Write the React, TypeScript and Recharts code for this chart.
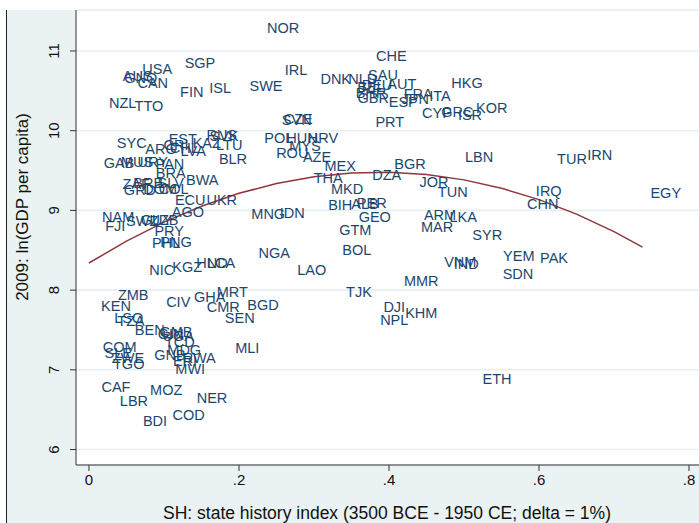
import { ScatterChart, Scatter, XAxis, YAxis, CartesianGrid } from 'recharts'

const FONT = '"Liberation Sans", Arial, sans-serif'
const LABEL_COLOR = '#1a476f'
const FIT_COLOR = '#90353b'

// country codes, state history index, 2009 ln(GDP per capita)
const CODES = [
  'NOR', 'CHE', 'SGP', 'USA', 'AUS', 'GNQ', 'CAN', 'FIN', 'ISL', 'SWE', 'IRL', 'NZL', 'TTO',
  'DNK', 'NLD', 'SAU', 'BEL', 'DEU', 'BHR', 'AUT', 'GBR', 'ESP', 'FRA', 'JPN', 'ITA', 'HKG',
  'CYP', 'GRC', 'ISR', 'KOR', 'PRT', 'SVN', 'CZE',
  'SYC', 'EST', 'ARG', 'CRI', 'CHL', 'LVA', 'KAZ', 'RUS', 'SVK', 'LTU', 'BLR', 'GAB', 'MUS',
  'URY', 'PAN', 'BRA', 'BWA', 'ZAF', 'BRB', 'SLV', 'GRD', 'DOM', 'COL', 'ECU', 'UKR', 'AGO',
  'MNG', 'IDN', 'NAM', 'FJI', 'SWZ', 'GUY', 'UZB', 'PRY', 'PHL', 'PNG', 'NIC', 'KGZ', 'HND',
  'LCA', 'NGA',
  'ZMB', 'KEN', 'CIV', 'GHA', 'MRT', 'CMR', 'BGD', 'SEN', 'LSO', 'TZA', 'BEN', 'GIN', 'GMB',
  'UGA', 'TCD', 'COM', 'SLE', 'ZWE', 'TGO', 'MDG', 'GNB', 'RWA', 'ERI', 'MWI', 'MLI', 'CAF',
  'MOZ', 'LBR', 'NER', 'BDI', 'COD',
  'POL', 'HUN', 'HRV', 'ROU', 'MYS', 'AZE', 'MEX', 'THA', 'DZA', 'BGR', 'MKD', 'JOR', 'TUN',
  'LBN', 'BIH', 'ALB', 'PER', 'GEO', 'GTM', 'BOL', 'LAO', 'ARM', 'LKA', 'MAR', 'SYR', 'VNM',
  'IND', 'YEM', 'SDN', 'PAK', 'MMR', 'TJK', 'DJI', 'NPL', 'KHM', 'ETH', 'TUR', 'IRN', 'IRQ',
  'CHN', 'EGY',
]

const SH = [
  0.259, 0.403, 0.148, 0.091, 0.065, 0.069, 0.085, 0.137, 0.175, 0.236, 0.276, 0.045, 0.080,
  0.329, 0.365, 0.392, 0.376, 0.384, 0.376, 0.417, 0.379, 0.419, 0.439, 0.435, 0.468, 0.504,
  0.464, 0.491, 0.508, 0.537, 0.401, 0.277, 0.279,
  0.057, 0.125, 0.096, 0.116, 0.127, 0.139, 0.157, 0.177, 0.180, 0.187, 0.192, 0.040, 0.064,
  0.085, 0.108, 0.109, 0.151, 0.063, 0.079, 0.109, 0.068, 0.095, 0.113, 0.135, 0.177, 0.132,
  0.239, 0.271, 0.039, 0.035, 0.071, 0.090, 0.100, 0.107, 0.103, 0.116, 0.097, 0.131, 0.164,
  0.176, 0.247,
  0.059, 0.036, 0.119, 0.161, 0.191, 0.179, 0.232, 0.201, 0.053, 0.056, 0.081, 0.109, 0.116,
  0.119, 0.121, 0.041, 0.039, 0.052, 0.053, 0.127, 0.108, 0.147, 0.128, 0.135, 0.211, 0.036,
  0.103, 0.060, 0.164, 0.088, 0.133,
  0.253, 0.284, 0.312, 0.271, 0.288, 0.304, 0.335, 0.319, 0.397, 0.428, 0.344, 0.460, 0.485,
  0.520, 0.335, 0.368, 0.377, 0.381, 0.355, 0.357, 0.297, 0.468, 0.499, 0.464, 0.531, 0.495,
  0.503, 0.573, 0.572, 0.620, 0.443, 0.360, 0.407, 0.407, 0.443, 0.544, 0.644, 0.681, 0.613,
  0.605, 0.769,
]

const LNGDP = [
  11.296, 10.945, 10.857, 10.782, 10.694, 10.669, 10.606, 10.493, 10.543, 10.568, 10.769, 10.355, 10.317,
  10.656, 10.656, 10.706, 10.556, 10.581, 10.481, 10.593, 10.418, 10.368, 10.468, 10.405, 10.443, 10.606,
  10.230, 10.242, 10.205, 10.292, 10.117, 10.142, 10.154,
  9.853, 9.903, 9.778, 9.828, 9.790, 9.753, 9.853, 9.954, 9.941, 9.828, 9.652, 9.602, 9.615,
  9.615, 9.590, 9.477, 9.389, 9.339, 9.351, 9.351, 9.263, 9.276, 9.276, 9.138, 9.138, 8.987,
  8.962, 8.975, 8.925, 8.812, 8.875, 8.887, 8.887, 8.749, 8.598, 8.611, 8.260, 8.297, 8.348,
  8.348, 8.473,
  7.946, 7.808, 7.858, 7.921, 7.984, 7.796, 7.821, 7.657, 7.657, 7.620, 7.507, 7.457, 7.482,
  7.432, 7.356, 7.294, 7.218, 7.156, 7.080, 7.256, 7.193, 7.156, 7.118, 7.018, 7.281, 6.792,
  6.754, 6.616, 6.654, 6.365, 6.440,
  9.916, 9.916, 9.916, 9.728, 9.816, 9.678, 9.565, 9.414, 9.452, 9.590, 9.276, 9.364, 9.238,
  9.678, 9.075, 9.088, 9.100, 8.925, 8.762, 8.511, 8.260, 8.950, 8.925, 8.799, 8.699, 8.360,
  8.335, 8.435, 8.210, 8.410, 8.122, 7.984, 7.795, 7.632, 7.720, 6.892, 9.652, 9.703, 9.251,
  9.088, 9.226,
]

// quadratic fit line
const FIT_SH = [0, 0.05, 0.1, 0.15, 0.2, 0.25, 0.3, 0.35, 0.4, 0.45, 0.5, 0.55, 0.6, 0.65, 0.7, 0.738]
const FIT_GDP = [8.34, 8.615, 8.853, 9.052, 9.214, 9.337, 9.422, 9.47, 9.479, 9.45, 9.383, 9.278, 9.135, 8.953, 8.734, 8.54]

const X_TICKS = [0, 0.2, 0.4, 0.6, 0.8]
const Y_TICKS = [6, 7, 8, 9, 10, 11]

const points = CODES.map((code, i) => ({ code, sh: SH[i], gdp: LNGDP[i] }))
const fit = FIT_SH.map((sh, i) => ({ sh, gdp: FIT_GDP[i] }))

function CountryLabel(props: any) {
  const { cx, cy, payload } = props
  return (
    <text x={cx} y={cy} dy="0.36em" textAnchor="middle" fill={LABEL_COLOR}
      fontSize={14.5} fontFamily={FONT}>
      {payload.code}
    </text>
  )
}

function YTick({ y, payload }: any) {
  const x = 54
  return (
    <text x={x} y={y} dy="0.36em" transform={`rotate(-90 ${x} ${y})`} textAnchor="middle"
      fill="#111" fontSize={15} fontFamily={FONT}>
      {payload.value}
    </text>
  )
}

const fmtX = (v: number) => (v === 0 ? '0' : '.' + Math.round(v * 10))

export default function App() {
  return (
    <div style={{ position: 'absolute', left: 0, top: 0, width: 699, height: 523, background: '#fff', overflow: 'hidden' }}>
      <div style={{
        position: 'absolute', left: 6, top: 10, width: 693, height: 513,
        background: '#eaf2f3', borderLeft: '1.5px solid #222',
      }} />
      <div style={{ position: 'absolute', left: 0, top: 0 }}>
        <ScatterChart width={699} height={523} margin={{ top: 10, right: 0, bottom: 0, left: 0 }}>
          <CartesianGrid vertical={false} fill="#fff" stroke="#e6eff1" strokeWidth={1.6} />
          <XAxis type="number" dataKey="sh" domain={[-0.0173, 0.8133]} ticks={X_TICKS}
            tickFormatter={fmtX} allowDataOverflow height={58} tickSize={6} tickMargin={3}
            stroke="#333" tick={{ fill: '#111', fontSize: 15, fontFamily: FONT }} />
          <YAxis type="number" dataKey="gdp" domain={[5.806, 11.514]} ticks={Y_TICKS}
            allowDataOverflow width={76} tickSize={6} stroke="#333" tick={<YTick />} />
          <Scatter data={fit} line={{ stroke: FIT_COLOR, strokeWidth: 1.5 }} lineType="joint"
            shape={() => <g />} isAnimationActive={false} />
          <Scatter data={points} shape={<CountryLabel />} isAnimationActive={false} />
        </ScatterChart>
      </div>
      <svg width={699} height={523} style={{ position: 'absolute', left: 0, top: 0, pointerEvents: 'none' }}>
        <text x={387} y={513} dy="0.36em" textAnchor="middle" fill="#111" fontSize={17.5} fontFamily={FONT}>
          SH: state history index (3500 BCE - 1950 CE; delta = 1%)
        </text>
        <text x={22} y={207} dy="0.36em" textAnchor="middle" transform="rotate(-90 22 207)"
          fill="#111" fontSize={17} fontFamily={FONT}>
          2009: ln(GDP per capita)
        </text>
      </svg>
    </div>
  )
}
